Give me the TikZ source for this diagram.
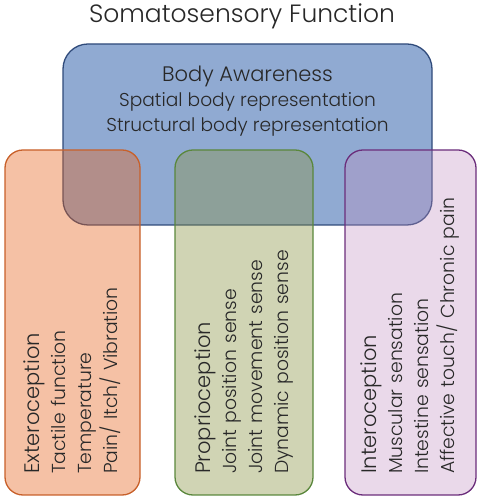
\documentclass[tikz,border=0pt]{standalone}
\usepackage{fontspec}
\setmainfont{Poppins Light}
\usetikzlibrary{positioning}

\definecolor{awarefill}{RGB}{144,170,210}
\definecolor{awareline}{RGB}{47,74,122}
\definecolor{exterofill}{RGB}{230,100,30}
\definecolor{exteroline}{RGB}{200,96,42}
\definecolor{propriofill}{RGB}{137,147,68}
\definecolor{proprioline}{RGB}{90,135,60}
\definecolor{interofill}{RGB}{190,140,190}
\definecolor{interoline}{RGB}{107,45,123}
\definecolor{textgray}{RGB}{40,40,40}

\begin{document}
\begin{tikzpicture}[x=1pt, y=1pt,
		bigbox/.style={rectangle, draw=awareline, fill=awarefill, line width=1.3pt, rounded corners=25pt, minimum width=369pt, minimum height=181pt},
		sidebox/.style={rectangle, rotate=90, line width=1.3pt, rounded corners=18pt, minimum width=345pt, minimum height=#1, text width=303pt, inner xsep=21pt, align=left, text=textgray, font=\fontsize{18.8}{26}\selectfont},
		head/.style={font=\fontsize{21}{26}\selectfont}
		]
		\useasboundingbox (0,0) rectangle (487,500);
		
		% Body awareness
		\node[bigbox] (awareness) at (247.5,365.5) {};
		\node[below=19pt of awareness.north, align=center, text=textgray, font=\fontsize{18.6}{25}\selectfont] (awaretext) {{\fontsize{21}{25}\selectfont Body Awareness}\\ Spatial body representation\\ Structural body representation};
		
		% Three senses
		\node[sidebox=135pt, draw=exteroline, fill=exterofill, fill opacity=0.4, text opacity=1] (extero) at (72.5,177.5) {{\fontsize{21}{26}\selectfont Exteroception}\\ Tactile function\\ Temperature\\ Pain/ Itch/ Vibration};
		\node[sidebox=138pt, draw=proprioline, fill=propriofill, fill opacity=0.4, text opacity=1] (proprio) at (244,177.5) {{\fontsize{21}{26}\selectfont Proprioception}\\ Joint position sense\\ Joint movement sense\\ Dynamic position sense};
		\node[sidebox=131pt, draw=interoline, fill=interofill, fill opacity=0.33, text opacity=1] (intero) at (410.5,177.5) {{\fontsize{21}{26}\selectfont Interoception}\\ Muscular sensation\\ Intestine sensation\\ Affective touch/ Chronic pain};
		
		% Title
		\node[text=textgray, font=\fontsize{25}{28}\selectfont] (title) at (242,484) {Somatosensory Function};
		
	\end{tikzpicture}
\end{document}
